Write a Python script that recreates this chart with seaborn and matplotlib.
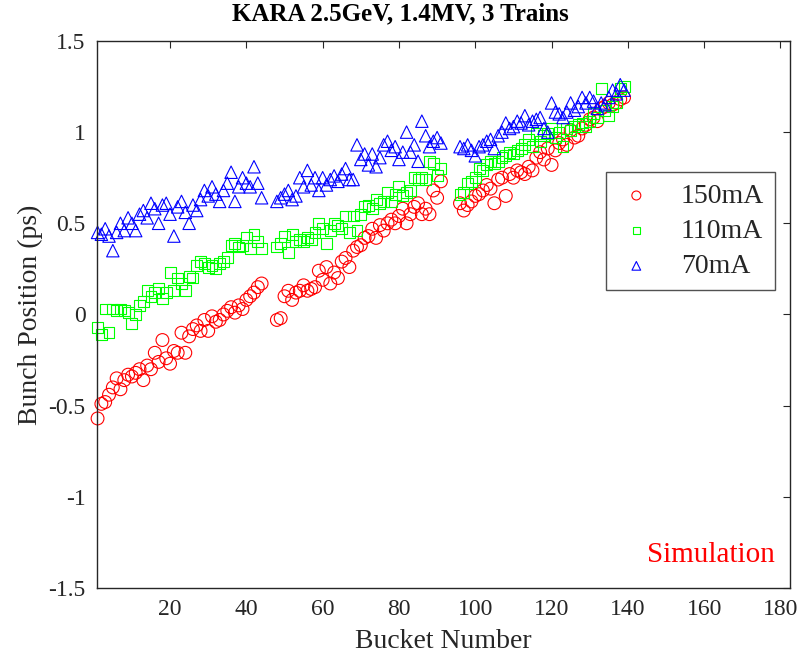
import matplotlib
matplotlib.use('Agg')
import matplotlib.pyplot as plt
import pandas as pd
import seaborn as sns

# Bucket numbers of the three trains
train1 = list(range(1, 45))
train2 = list(range(48, 92))
train3 = list(range(96, 140))
buckets = train1 + train2 + train3

# Bunch position (ps), one value per bucket
pos_150 = [
    -0.57, -0.49, -0.48, -0.44, -0.40, -0.35, -0.41, -0.36, -0.33, -0.34, -0.32,
    -0.30, -0.36, -0.28, -0.30, -0.21, -0.26, -0.14, -0.24, -0.27, -0.20, -0.21,
    -0.10, -0.21, -0.12, -0.08, -0.06, -0.09, -0.03, -0.09, -0.01, -0.04, -0.03,
    0.00, 0.02, 0.04, 0.01, 0.05, 0.03, 0.08, 0.10, 0.12, 0.15, 0.17,
    -0.03, -0.02, 0.10, 0.13, 0.08, 0.12, 0.13, 0.16, 0.13, 0.14, 0.15,
    0.24, 0.19, 0.26, 0.17, 0.23, 0.20, 0.29, 0.31, 0.26, 0.35, 0.37,
    0.38, 0.42, 0.43, 0.47, 0.42, 0.49, 0.46, 0.50, 0.52, 0.50, 0.54,
    0.58, 0.50, 0.55, 0.59, 0.61, 0.55, 0.58, 0.55, 0.68, 0.64, 0.73,
    0.61, 0.57, 0.60, 0.62, 0.65, 0.66, 0.68, 0.71, 0.69, 0.61, 0.74,
    0.75, 0.65, 0.77, 0.75, 0.79, 0.78, 0.77, 0.81, 0.79, 0.86, 0.89,
    0.85, 0.91, 0.82, 0.90, 0.94, 0.96, 0.93, 1.01, 0.97, 0.98, 1.02,
    1.04, 1.07, 1.08, 1.06, 1.13, 1.14, 1.16, 1.15, 1.16, 1.18, 1.19,
]
pos_110 = [
    -0.07, -0.11, 0.03, -0.10, 0.03, 0.02, 0.03, 0.02, 0.01, -0.05, 0.00,
    0.05, 0.07, 0.13, 0.10, 0.12, 0.14, 0.09, 0.12, 0.23, 0.13, 0.20,
    0.17, 0.13, 0.21, 0.20, 0.27, 0.29, 0.28, 0.26, 0.27, 0.25, 0.28,
    0.29, 0.31, 0.38, 0.39, 0.37, 0.38, 0.42, 0.36, 0.44, 0.40, 0.36,
    0.37, 0.39, 0.43, 0.34, 0.44, 0.40, 0.41, 0.40, 0.42, 0.41, 0.45,
    0.50, 0.47, 0.39, 0.46, 0.50, 0.49, 0.47, 0.54, 0.45, 0.54, 0.46,
    0.55, 0.59, 0.60, 0.58, 0.63, 0.61, 0.62, 0.67, 0.62, 0.66, 0.70,
    0.65, 0.67, 0.68, 0.75, 0.74, 0.75, 0.74, 0.84, 0.83, 0.76, 0.80,
    0.66, 0.67, 0.72, 0.73, 0.75, 0.80, 0.79, 0.82, 0.84, 0.83, 0.84,
    0.86, 0.87, 0.89, 0.88, 0.90, 0.91, 0.93, 0.96, 0.92, 0.99, 0.95,
    0.98, 0.99, 1.02, 0.97, 1.00, 0.92, 1.02, 1.01, 1.03, 1.04, 1.05,
    1.03, 1.06, 1.10, 1.08, 1.24, 1.12, 1.09, 1.14, 1.16, 1.24, 1.25,
]
pos_70 = [
    0.45, 0.44, 0.47, 0.43, 0.35, 0.45, 0.50, 0.46, 0.53, 0.50, 0.46,
    0.55, 0.57, 0.53, 0.61, 0.58, 0.50, 0.60, 0.61, 0.55, 0.43, 0.59,
    0.62, 0.56, 0.50, 0.60, 0.57, 0.63, 0.68, 0.65, 0.70, 0.66, 0.62,
    0.68, 0.72, 0.78, 0.62, 0.70, 0.75, 0.72, 0.70, 0.81, 0.72, 0.64,
    0.62, 0.64, 0.66, 0.68, 0.63, 0.65, 0.75, 0.70, 0.79, 0.71, 0.75,
    0.68, 0.75, 0.71, 0.74, 0.76, 0.73, 0.77, 0.80, 0.74, 0.74, 0.93,
    0.85, 0.88, 0.82, 0.88, 0.81, 0.86, 0.93, 0.95, 0.90, 0.92, 0.85,
    0.89, 1.00, 0.89, 0.93, 0.84, 1.06, 0.98, 0.92, 0.95, 0.97, 0.94,
    0.92, 0.91, 0.93, 0.90, 0.87, 0.92, 0.93, 0.95, 0.96, 0.91, 0.98,
    1.00, 1.05, 1.02, 1.03, 1.06, 1.05, 1.09, 1.04, 1.06, 1.07, 1.08,
    1.02, 1.00, 1.16, 1.11, 1.10, 1.08, 1.11, 1.16, 1.12, 1.14, 1.19,
    1.16, 1.19, 1.17, 1.13, 1.16, 1.15, 1.19, 1.23, 1.21, 1.26, 1.23,
]

labels = ['150mA', '110mA', '70mA']
colors = ['#ff0000', '#00ff00', '#0000ff']
markers = ['o', 's', '^']
sizes = [85, 62, 80]

df = pd.DataFrame({
    'bucket': buckets * 3,
    'pos': pos_150 + pos_110 + pos_70,
    'current': [l for l in labels for _ in buckets],
})

sns.set_style('white')
plt.rcParams['font.family'] = ['Liberation Serif', 'DejaVu Serif']

fig = plt.figure(figsize=(8, 6.6), dpi=100)
ax = fig.add_axes([0.121, 0.109, 0.867, 0.829])

for lab, col, mk, sz in zip(labels, colors, markers, sizes):
    sub = df[df['current'] == lab]
    sns.scatterplot(data=sub, x='bucket', y='pos', ax=ax, marker=mk, s=sz,
                    color=col, facecolor='none', edgecolor=col, linewidth=0.8,
                    label=lab, clip_on=False)

ax.set_xlim(0.8, 182.6)
ax.set_ylim(-1.5, 1.5)
ax.set_xticks(range(20, 181, 20))
ax.set_yticks([-1.5, -1, -0.5, 0, 0.5, 1, 1.5])
ax.set_yticklabels(['-1.5', '-1', '-0.5', '0', '0.5', '1', '1.5'])
ax.tick_params(direction='in', length=5, width=0.8, top=True, right=True,
               labelsize=17, colors='#262626', pad=8)
for sp in ax.spines.values():
    sp.set_color('#262626')
    sp.set_linewidth(1.0)

ax.set_xlabel('Bucket Number', fontsize=20, color='#262626', labelpad=6)
ax.set_ylabel('Bunch Position (ps)', fontsize=20, color='#262626', labelpad=4)
ax.set_title('KARA 2.5GeV, 1.4MV, 3 Trains', fontsize=18, fontweight='bold',
             color='black', pad=15, x=0.437)

leg = ax.legend(loc='upper right', bbox_to_anchor=(0.978, 0.76), fontsize=20,
                frameon=True, fancybox=False, edgecolor='#262626',
                borderpad=0.4, labelspacing=0.35, handletextpad=0.9,
                handlelength=1.4, borderaxespad=0, markerscale=0.7)
leg.get_frame().set_linewidth(1.0)

ax.text(0.978, 0.06, 'Simulation', transform=ax.transAxes, fontsize=21,
        color='#ff0000', ha='right', va='center')

fig.savefig('out.png', dpi=100)
